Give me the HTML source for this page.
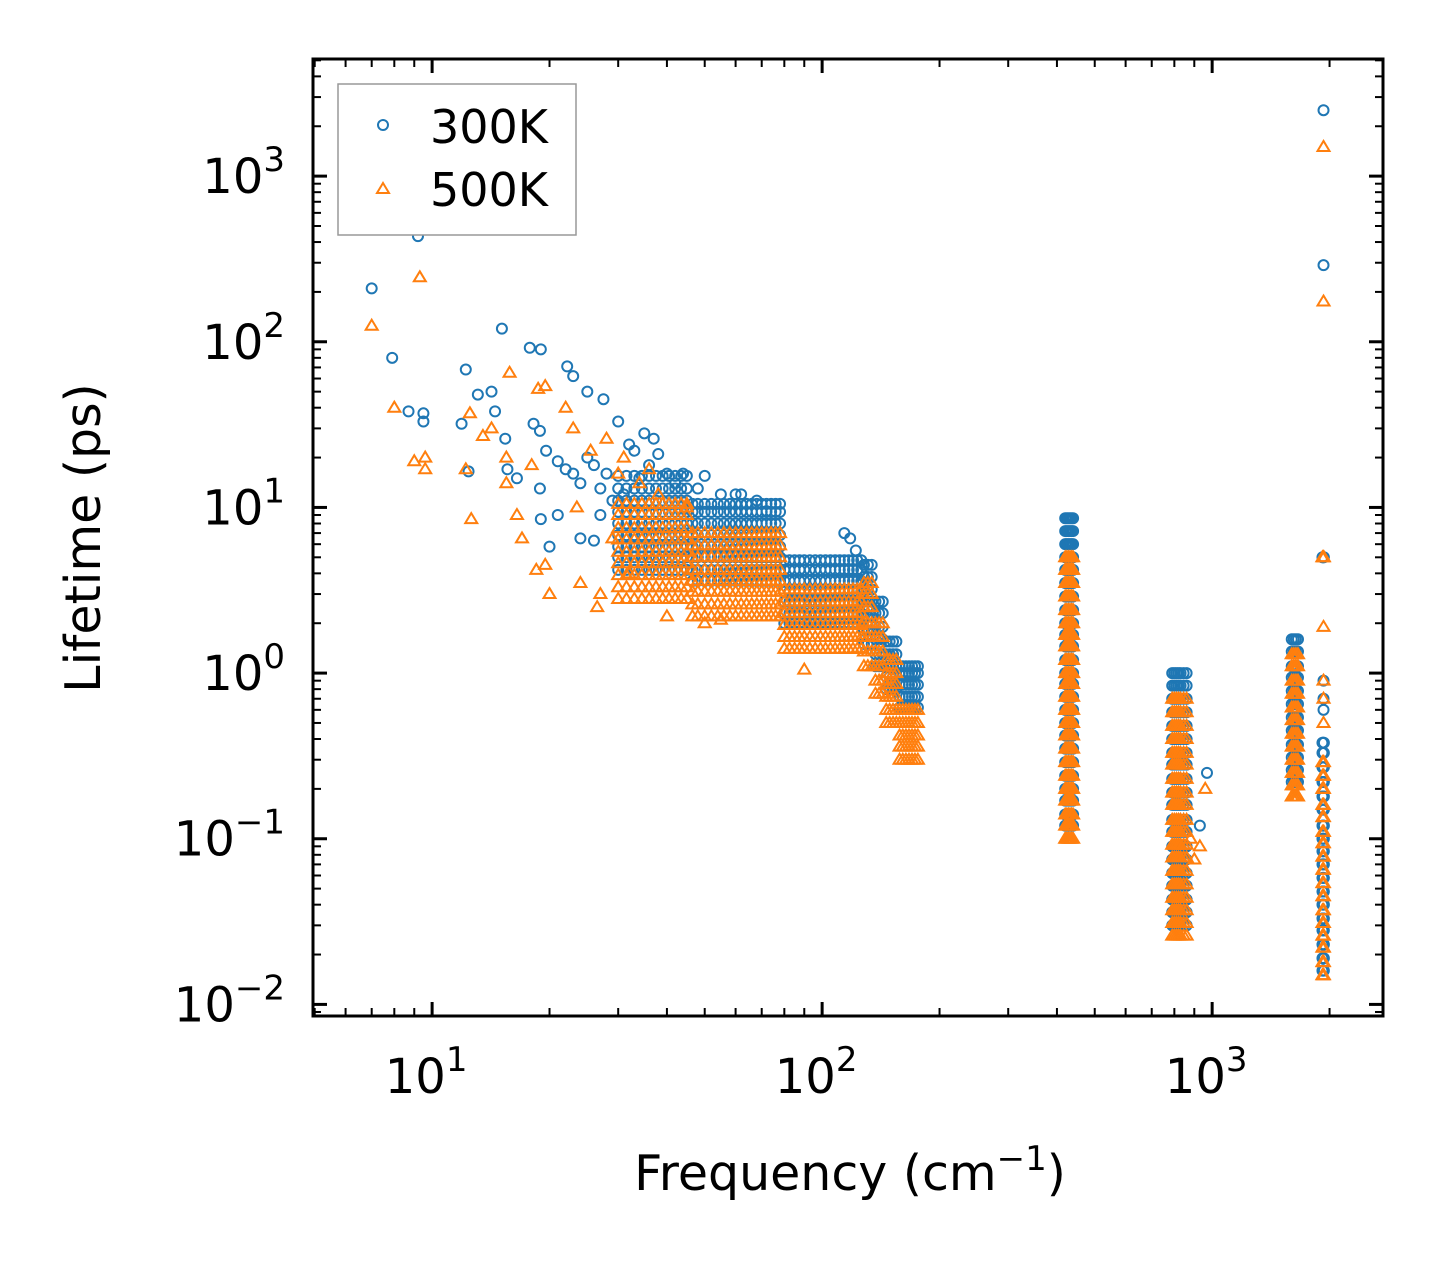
<!DOCTYPE html>
<html><head><meta charset="utf-8">
<style>
html,body{margin:0;padding:0;background:#fff;}
svg{display:block;font-family:"DejaVu Sans","Liberation Sans",sans-serif;}
</style></head>
<body>
<svg id="chart" width="1442" height="1265" viewBox="0 0 1442 1265" xmlns="http://www.w3.org/2000/svg">
<rect width="1442" height="1265" fill="#fff"/>
<g id="points300"></g>
<g id="points500"></g>
<g id="axes"></g>
<text transform="translate(100,538) rotate(-90)" text-anchor="middle" font-size="49">Lifetime (ps)</text>
<text x="850" y="1190" text-anchor="middle" font-size="49">Frequency (cm<tspan dy="-20" font-size="34">−1</tspan><tspan dy="20">)</tspan></text>
<g>
<rect x="338" y="84" width="238" height="151" fill="#fff" stroke="#999" stroke-width="1.5"/>
<circle cx="383" cy="125" r="5" fill="none" stroke="#1f77b4" stroke-width="2"/>
<text x="430" y="143" font-size="46">300K</text>
<path d="M383,183 L389,193 L377,193 Z" fill="none" stroke="#ff7f0e" stroke-width="2"/>
<text x="430" y="206" font-size="46">500K</text>
</g>
</svg>
<script>
const xTicks = [1, 2, 3];
const yTicks = [-2, -1, 0, 1, 2, 3];
const scatter300 = [[7,210],[7.9,80],[9.2,434],[8.7,38],[9.5,37],[9.5,33],[12.2,68],[11.9,32],[12.4,16.5],[13.1,48],[14.2,50],[14.5,38],[15.1,120],[15.4,26],[15.6,17],[16.5,15],[17.8,92],[19,90],[18.2,32],[18.9,29],[19.6,22],[18.9,13],[20,5.8],[22.2,71],[23,62],[25,50],[27.5,45],[30,33],[21,19],[22,17],[23,16],[24,14],[25,20],[26,18],[27,13],[28,16],[29,11],[24,6.5],[27,9],[32,24],[33,22],[35,28],[37,26],[38,21],[36,18],[34,15],[31,12],[40,16],[44,16],[50,15.5],[55,12],[62,12],[68,11],[72,9.5],[19,8.5],[21,9],[26,6.3],[114,7],[118,6.5],[122,5.5],[60,12],[64,10.5],[48,13],[42,14],[930,0.12],[970,0.25],[1930,290],[1930,2500],[1930,0.9],[1930,0.7],[1930,0.6]];
const freqsBandA = [30,31.5,33,34.5,36,37.5,39,40.5,42,43.5,45];
const freqsBandB = [46.5,48,50,52,54,56,58,60,62,64,66,68,70,72,74,76,78];
const freqsMid = [80,82.5,85,87.5,90,93,96,99,102,105,108,111,114,117,120,123,126];
const freqsFallA = [128,131,134];
const freqsFallB = [137,140,143];
const freqsFallC = [146,149,152,155];
const freqsFallD = [158,161,164,167,170,173,176];
const freqs430 = [420,424,428,432,436,440];
const freqs800 = [790,800,810,820,830,845,860];
const freqs1650 = [1600,1620,1640,1660];
const freqs1930 = [1918,1926,1934];
const lives300BandA = [4.2,5,5.8,6.8,8,9.4,11,13,15.5];
const lives300BandB = [3.6,4.2,5,5.8,6.8,8,9.4,10.5];
const lives300Mid = [2,2.3,2.7,3.1,3.6,4.2,4.8];
const lives300FallA = [1.5,1.8,2.2,2.7,3.2,3.8,4.5];
const lives300FallB = [1.1,1.3,1.6,1.9,2.3,2.7];
const lives300FallC = [0.8,0.95,1.1,1.3,1.55];
const lives300FallD = [0.62,0.72,0.85,1,1.1];
const lives300At430 = [0.12,0.14,0.17,0.2,0.24,0.29,0.35,0.42,0.5,0.6,0.72,0.86,1,1.2,1.45,1.7,2,2.4,2.9,3.5,4.2,5,6,7.2,8.6];
const lives300At800 = [0.03,0.036,0.043,0.052,0.062,0.075,0.09,0.11,0.13,0.16,0.19,0.23,0.28,0.33,0.4,0.48,0.58,0.7,0.84,1];
const lives300At1650 = [0.22,0.26,0.31,0.37,0.45,0.54,0.65,0.78,0.94,1.1,1.35,1.6];
const lives300At1930 = [0.016,0.019,0.023,0.028,0.033,0.04,0.048,0.058,0.07,0.084,0.1,0.12,0.15,0.18,0.22,0.27,0.33,0.38,5];
const groups300 = [[freqsBandA,lives300BandA],[freqsBandB,lives300BandB],[freqsMid,lives300Mid],[freqsFallA,lives300FallA],[freqsFallB,lives300FallB],[freqsFallC,lives300FallC],[freqsFallD,lives300FallD],[freqs430,lives300At430],[freqs800,lives300At800],[freqs1650,lives300At1650],[freqs1930,lives300At1930]];

const scatter500 = [[7,125],[8,40],[9.3,245],[9,19],[9.6,20],[9.6,17],[12.2,17],[12.5,37],[12.6,8.5],[13.5,27],[14.2,30],[15.5,20],[15.8,65],[15.5,14],[16.5,9],[17,6.5],[18,18],[18.7,52],[19.5,54],[18.5,4.2],[19.5,4.5],[20,3],[22,40],[23,30],[23.5,10],[24,3.5],[25.5,22],[26.5,2.5],[28,26],[30,16],[29,6.5],[27,3],[31,20],[34,14],[36,17],[38,12],[45,10],[32,4],[40,2.2],[50,2],[55,2.1],[90,1.05],[880,0.1],[900,0.075],[930,0.09],[960,0.2],[1930,175],[1930,1500],[1930,1.9],[1930,0.9],[1930,0.7],[1930,0.5]];
const lives500BandA = [2.8,3.3,3.9,4.6,5.4,6.4,7.5,9,10.5];
const lives500BandB = [2.2,2.6,3.1,3.6,4.2,5,5.9,7];
const lives500Mid = [1.4,1.65,1.95,2.3,2.7,3.2];
const lives500FallA = [1.1,1.35,1.65,2,2.5,3,3.5];
const lives500FallB = [0.75,0.9,1.1,1.35,1.65,2];
const lives500FallC = [0.5,0.6,0.72,0.86,1,1.2];
const lives500FallD = [0.3,0.36,0.42,0.5,0.6];
const lives500At430 = [0.1,0.12,0.14,0.17,0.2,0.24,0.29,0.35,0.42,0.5,0.6,0.72,0.86,1,1.2,1.45,1.7,2,2.4,2.9,3.5,4.2,5];
const lives500At800 = [0.026,0.031,0.037,0.044,0.053,0.064,0.077,0.092,0.11,0.13,0.16,0.19,0.23,0.28,0.33,0.4,0.48,0.58,0.7];
const lives500At1650 = [0.18,0.21,0.25,0.3,0.36,0.43,0.52,0.62,0.75,0.9,1.1,1.3];
const lives500At1930 = [0.015,0.018,0.022,0.026,0.031,0.037,0.045,0.054,0.065,0.078,0.094,0.11,0.135,0.16,0.2,0.24,0.29,5];
const groups500 = [[freqsBandA,lives500BandA],[freqsBandB,lives500BandB],[freqsMid,lives500Mid],[freqsFallA,lives500FallA],[freqsFallB,lives500FallB],[freqsFallC,lives500FallC],[freqsFallD,lives500FallD],[freqs430,lives500At430],[freqs800,lives500At800],[freqs1650,lives500At1650],[freqs1930,lives500At1930]];

const NS = "http://www.w3.org/2000/svg";
const L = 313, R = 1383, T = 59, B = 1016;
const xLo = Math.log10(4.95), xHi = Math.log10(2742);
const yLo = -2.07, yHi = 3.707;
function xs(v){ return L + (Math.log10(v) - xLo) / (xHi - xLo) * (R - L); }
function ys(v){ return B - (Math.log10(v) - yLo) / (yHi - yLo) * (B - T); }
function mk(tag, attrs, parent){ const e = document.createElementNS(NS, tag); for (const k in attrs) e.setAttribute(k, attrs[k]); parent.appendChild(e); return e; }

function collect(scatter, groups){
  const pts = scatter.map(p => [p[0], p[1]]);
  groups.forEach(g => g[0].forEach(f => g[1].forEach(v => pts.push([f, v]))));
  return pts;
}
const g3 = document.getElementById('points300');
collect(scatter300, groups300).forEach(p => {
  const c = mk('circle', {cx: xs(p[0]), cy: ys(p[1]), r: 5, fill: 'none', stroke: '#1f77b4', 'stroke-width': 2}, g3);
  
  
});
const g5 = document.getElementById('points500');
collect(scatter500, groups500).forEach(p => {
  const x = xs(p[0]), y = ys(p[1]);
  const t = mk('path', {d: `M${x},${y-6} L${x+6},${y+4} L${x-6},${y+4} Z`, fill: 'none', stroke: '#ff7f0e', 'stroke-width': 2}, g5);
  
  
});

const ax = document.getElementById('axes');
const sp = mk('rect', {x: L, y: T, width: R - L, height: B - T, fill: 'none', stroke: '#000', 'stroke-width': 3}, ax);


for (let d = 0; d <= 3; d++) {
  for (let m = 1; m <= 9; m++) {
    const v = m * Math.pow(10, d);
    if (Math.log10(v) < xLo || Math.log10(v) > xHi) continue;
    const x = xs(v), len = m === 1 ? 14 : 8, w = m === 1 ? 3 : 2;
    mk('line', {x1: x, x2: x, y1: B, y2: B - len, stroke: '#000', 'stroke-width': w}, ax);
    mk('line', {x1: x, x2: x, y1: T, y2: T + len, stroke: '#000', 'stroke-width': w}, ax);
  }
}
xTicks.forEach(e => {
  const t = mk('text', {x: xs(Math.pow(10, e)) - 6, y: 1093, 'text-anchor': 'middle', 'font-size': 48}, ax);
  
  
  t.innerHTML = '10<tspan dy="-22" font-size="34">' + e + '</tspan>';
});
for (let d = -3; d <= 3; d++) {
  for (let m = 1; m <= 9; m++) {
    const v = m * Math.pow(10, d);
    const lv = Math.log10(v);
    if (lv < yLo || lv > yHi) continue;
    const y = ys(v), len = m === 1 ? 14 : 8, w = m === 1 ? 3 : 2;
    mk('line', {x1: L, x2: L + len, y1: y, y2: y, stroke: '#000', 'stroke-width': w}, ax);
    mk('line', {x1: R, x2: R - len, y1: y, y2: y, stroke: '#000', 'stroke-width': w}, ax);
  }
}
yTicks.forEach(e => {
  const y = ys(Math.pow(10, e));
  const lab = e < 0 ? '−' + (-e) : '' + e;
  const t = mk('text', {x: 285, y: y + 17, 'text-anchor': 'end', 'font-size': 48}, ax);
  
  
  t.innerHTML = '10<tspan dy="-22" font-size="34">' + lab + '</tspan>';
});
</script>
</body></html>
